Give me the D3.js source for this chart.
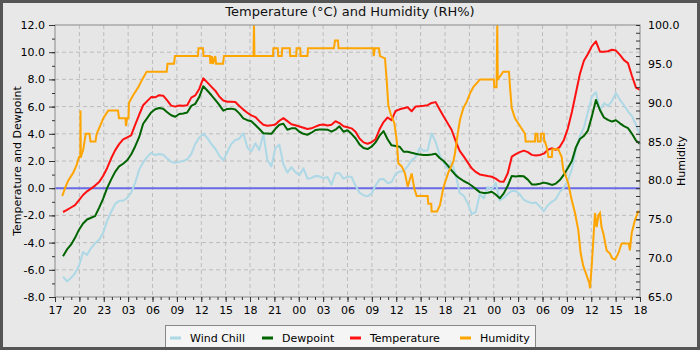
<!DOCTYPE html>
<html>
<head>
<meta charset="utf-8">
<script src="https://cdn.jsdelivr.net/npm/d3@7"></script>
<style>
  body { margin: 0; background: #e8e8e8; }
  svg { display: block; font-family: "DejaVu Sans", sans-serif; }
</style>
</head>
<body>
<svg id="chart" width="700" height="350"></svg>
<script>
// Time axis: 73 hours from 17:00 on the first day to 18:00 three days later.
const spanHours = 73;
const xTickLabels = ["17","20","23","03","06","09","12","15","18","21","00","03","06","09",
                     "12","15","18","21","00","03","06","09","12","15","18"];
const firstSampleHour = 1;   // readings start at 18:00
const sampleStep = 0.5;      // one reading every 30 minutes

// Half-hourly readings (°C)
const windChill = [
  -6.5,-6.85,-6.6,-6.26,-5.7,-4.7,-4.9,-4.4,-4.05,-3.8,
  -3.3,-2.4,-1.75,-1.15,-0.93,-0.92,-0.72,-0.32,0.38,1.35,
  1.9,2.3,2.6,2.44,2.52,2.46,2.18,1.95,1.86,1.94,
  2.0,2.12,2.5,3.25,3.72,4.0,3.7,3.25,2.9,2.4,
  2.05,2.66,3.25,3.54,3.64,4.04,3.0,2.7,3.3,2.8,
  4.0,2.07,1.6,2.95,3.2,1.75,1.15,1.55,1.18,0.95,
  1.46,0.7,0.75,0.9,0.87,0.73,0.82,0.26,1.1,1.1,
  0.7,0.84,0.84,0.18,-0.32,-0.52,-0.6,-0.39,0.2,0.65,
  0.68,0.37,0.45,1.05,1.21,1.26,1.6,2.07,2.27,2.95,
  2.75,2.78,4.04,3.4,2.45,1.9,1.45,1.9,1.0,-0.35,
  -0.55,-1.1,-1.9,-1.75,-0.45,-0.75,0.1,-0.1,0.38,-0.9,
  -0.7,-0.42,-0.2,-0.2,-0.45,-0.85,-1.0,-1.1,-1.05,-1.35,
  -1.7,-1.25,-1.0,-0.8,-0.27,0.05,0.55,1.4,2.85,3.85,
  4.45,5.6,6.75,7.05,5.75,6.25,6.05,6.4,7.0,6.5,
  6.1,5.65,5.3,4.65,3.9];
const dewpoint = [
  -5.0,-4.5,-4.15,-3.65,-3.05,-2.6,-2.3,-2.17,-2.05,-1.45,
  -0.78,0.0,0.63,1.2,1.6,1.8,2.05,2.48,3.07,3.75,
  4.74,5.15,5.57,5.8,5.9,5.85,5.58,5.36,5.25,5.46,
  5.5,5.56,6.05,6.2,6.7,7.5,7.18,6.85,6.5,6.13,
  5.7,5.83,5.85,5.78,5.5,5.14,5.0,4.92,4.65,4.35,
  4.04,4.02,4.0,4.37,4.67,4.74,4.3,4.4,4.4,4.15,
  4.0,3.93,4.08,4.28,4.32,4.32,4.3,4.16,4.3,4.55,
  4.15,4.26,4.0,3.67,3.22,2.95,2.88,3.05,3.37,3.86,
  4.2,3.6,3.15,3.1,3.05,2.68,2.68,2.6,2.53,2.47,
  2.44,2.44,2.48,2.53,2.22,2.0,1.68,1.3,0.96,0.72,
  0.53,0.38,0.18,-0.05,-0.29,-0.36,-0.33,-0.26,-0.46,-0.74,
  -0.38,0.18,0.9,0.86,0.9,0.87,0.63,0.28,0.27,0.33,
  0.41,0.35,0.24,0.34,0.6,1.0,1.48,2.0,3.0,3.62,
  3.85,4.24,5.3,6.49,5.75,5.2,5.02,4.9,5.0,4.77,
  4.56,4.42,4.0,3.5,3.25];
const temperature = [
  -1.75,-1.6,-1.42,-1.24,-0.87,-0.5,-0.23,-0.03,0.19,0.45,
  0.9,1.47,2.18,2.78,3.24,3.59,3.73,3.88,4.65,5.4,
  6.1,6.4,6.7,6.68,6.84,6.8,6.45,6.07,6.0,6.08,
  6.06,6.1,6.66,6.82,7.3,8.08,7.78,7.47,7.17,6.74,
  6.45,6.36,6.36,6.34,6.05,5.78,5.55,5.35,5.23,4.93,
  4.67,4.59,4.62,4.68,4.96,5.15,4.93,4.7,4.63,4.54,
  4.45,4.35,4.4,4.53,4.65,4.69,4.61,4.67,4.92,4.79,
  4.56,4.48,4.4,4.15,3.65,3.37,3.27,3.38,3.6,4.33,
  4.86,5.2,5.0,5.68,5.8,5.88,5.95,5.66,6.0,6.03,
  6.06,6.1,6.27,6.33,5.79,5.27,4.78,4.28,3.46,2.75,
  2.34,1.9,1.46,1.2,1.01,0.95,0.89,0.84,0.7,0.49,
  0.48,1.1,2.32,2.5,2.65,2.76,2.65,2.45,2.4,2.44,
  2.54,2.82,2.94,2.82,3.04,3.55,4.4,5.6,7.0,8.4,
  9.37,9.87,10.45,10.8,10.04,10.04,10.07,10.18,10.12,9.8,
  9.42,9.2,8.25,7.4,7.22];

// Humidity (RH%) logged on change: hour of reading and value
const humidityHours = [0.91,1.25,1.66,2.28,2.71,2.99,3.16,3.18,3.22,3.53,3.83,4.3,4.43,5.05,5.2,5.62,6.03,6.65,
  7.86,7.99,8.8,8.85,9.0,9.17,9.23,9.77,10.39,10.89,11.44,13.94,14.04,14.85,14.97,17.84,17.9,18.47,18.53,
  19.34,19.4,19.6,19.7,20.0,20.1,20.96,21.09,24.77,24.83,24.89,27.2,27.25,27.8,27.85,28.3,28.35,29.3,29.35,
  30.1,30.15,30.6,30.65,31.5,31.57,34.81,34.94,35.31,35.38,39.72,39.78,39.9,40.43,40.55,41.18,41.39,41.59,
  41.93,42.34,42.64,42.84,43.26,43.67,44.01,44.51,44.83,45.13,46.5,46.58,46.95,47.0,47.67,48.04,48.45,48.75,
  49.08,49.7,49.91,50.33,50.54,50.95,51.37,51.79,52.2,53.04,54.77,54.81,55.1,55.19,55.25,55.94,56.65,56.78,
  56.99,57.4,58.02,58.65,58.74,59.9,59.95,60.2,60.25,60.6,60.65,61.0,61.05,61.14,61.36,61.57,62.0,62.06,
  62.8,63.23,63.43,63.76,64.05,64.47,64.89,65.3,65.6,65.92,66.26,66.67,66.76,66.97,67.17,67.38,67.59,67.8,
  68.0,68.2,68.42,68.84,69.25,69.5,69.88,70.29,70.7,71.6,71.74,71.96,72.37,72.78,72.99];
const humidity = [78,79,80,81,82,83,83,89,83,84,86,86,85,85,86,87,88,89,
  89,88,88,87,88,88,90,91,92,93,94,94,95,95,96,96,97,97,96,
  96,95,96,95,96,95,95,96,96,100,96,96,97,97,96,96,97,97,96,
  96,97,97,96,96,97,97,98,98,97,97,96,97,97,96,95.7,92.9,89.7,
  88.4,87.4,85.2,82.2,81.8,80.9,79.2,80.9,79,78,78,77,77,76,76,76.8,79,80,
  81,82.4,83.5,86.5,87.8,89.3,90.1,91.2,92,93,93,92,92,100,93,94,94,92,
  89.3,88,87,86,85,85,86,86,85,85,86,86,85,85,84.3,83,83,84,
  84,83,81.3,80.5,79.6,77.5,75.8,73.6,70.6,69,68,66.8,66.1,68.9,72.3,75.8,74,75.5,
  75.8,74,73.2,71,70.6,70,69.8,70.6,71.9,71.9,71,73.2,74.9,76,76];

const series = [
  { name: "Wind Chill",  color: "#add8e6", values: windChill },
  { name: "Dewpoint",    color: "#006400", values: dewpoint },
  { name: "Temperature", color: "#ff1111", values: temperature }
];

const svg = d3.select("#chart");
const W = 700, H = 350;
const plot = { left: 55, right: 640, top: 25, bottom: 297 };

const x = d3.scaleLinear().domain([0, spanHours]).range([plot.left, plot.right]);
const yT = d3.scaleLinear().domain([-8, 12]).range([plot.bottom, plot.top]);
const yH = d3.scaleLinear().domain([65, 100]).range([plot.bottom, plot.top]);

// background
svg.append("rect").attr("width", W).attr("height", H).attr("fill", "#e8e8e8");
svg.append("rect").attr("x", plot.left).attr("y", plot.top)
  .attr("width", plot.right - plot.left).attr("height", plot.bottom - plot.top)
  .attr("fill", "#e6e6e6");

const nIntervals = xTickLabels.length - 1;
const xMajor = xTickLabels.map((_, i) => i * spanHours / nIntervals);
const xMinor = d3.range(nIntervals * 3 + 1).map(i => i * spanHours / (nIntervals * 3));
const yMajor = d3.range(-8, 12.01, 2);
const yMinor = d3.range(-8, 12.01, 1);
const hMajor = d3.range(65, 100.01, 5);
const hMinor = d3.range(65, 100.01, 1);

// dashed grid
const grid = svg.append("g").attr("stroke", "#bcbcbc").attr("stroke-width", 1)
  .attr("stroke-dasharray", "4,3");
grid.selectAll("line.v").data(xMajor.slice(1, -1)).join("line")
  .attr("x1", d => x(d)).attr("x2", d => x(d))
  .attr("y1", plot.top).attr("y2", plot.bottom);
grid.selectAll("line.h").data(yMajor.slice(1, -1)).join("line")
  .attr("x1", plot.left).attr("x2", plot.right)
  .attr("y1", d => yT(d)).attr("y2", d => yT(d));

// freezing line
svg.append("line")
  .attr("x1", plot.left).attr("x2", plot.right)
  .attr("y1", yT(0)).attr("y2", yT(0))
  .attr("stroke", "#6a6ae6").attr("stroke-width", 2);

// series lines
const hourOf = i => firstSampleHour + i * sampleStep;
series.forEach(s => {
  const line = d3.line().x((d, i) => x(hourOf(i))).y(d => yT(d));
  svg.append("path").datum(s.values)
    .attr("d", line).attr("fill", "none")
    .attr("stroke", s.color).attr("stroke-width", 2)
    .attr("stroke-linejoin", "round");
});
const humLine = d3.line().x((d, i) => x(humidityHours[i])).y(d => yH(d));
svg.append("path").datum(humidity)
  .attr("d", humLine).attr("fill", "none")
  .attr("stroke", "#ffa500").attr("stroke-width", 2);

// plot frame
svg.append("rect").attr("x", plot.left).attr("y", plot.top)
  .attr("width", plot.right - plot.left).attr("height", plot.bottom - plot.top)
  .attr("fill", "none").attr("stroke", "#999").attr("stroke-width", 1.2);

function styleAxis(g) {
  g.select(".domain").remove();
  g.selectAll("line").attr("stroke", "#333");
  g.selectAll("text").attr("fill", "#000").attr("font-size", 11)
    .attr("font-family", "DejaVu Sans, sans-serif");
}

// bottom axis
svg.append("g").attr("transform", `translate(0,${plot.bottom})`)
  .call(d3.axisBottom(x).tickValues(xMinor).tickSize(3).tickFormat(""))
  .call(styleAxis);
svg.append("g").attr("transform", `translate(0,${plot.bottom})`)
  .call(d3.axisBottom(x).tickValues(xMajor).tickSize(5).tickPadding(4)
    .tickFormat((d, i) => xTickLabels[i]))
  .call(styleAxis);

// left axis
svg.append("g").attr("transform", `translate(${plot.left},0)`)
  .call(d3.axisLeft(yT).tickValues(yMinor).tickSize(3).tickFormat(""))
  .call(styleAxis);
svg.append("g").attr("transform", `translate(${plot.left},0)`)
  .call(d3.axisLeft(yT).tickValues(yMajor).tickSize(6).tickPadding(4)
    .tickFormat(d => d.toFixed(1)))
  .call(styleAxis);

// right axis (ticks point inward)
svg.append("g").attr("transform", `translate(${plot.right},0)`)
  .call(d3.axisRight(yH).tickValues(hMinor).tickSize(-4).tickFormat(""))
  .call(styleAxis);
svg.append("g").attr("transform", `translate(${plot.right},0)`)
  .call(d3.axisRight(yH).tickValues(hMajor).tickSize(-4).tickPadding(8)
    .tickFormat(d => d.toFixed(1)))
  .call(styleAxis);

// titles
svg.append("text").attr("x", 350).attr("y", 16).attr("text-anchor", "middle")
  .attr("font-size", 13).attr("fill", "#111")
  .text("Temperature (°C) and Humidity (RH%)");
svg.append("text").attr("transform", `translate(20.5,${(plot.top + plot.bottom) / 2}) rotate(-90)`)
  .attr("text-anchor", "middle").attr("font-size", 11).attr("fill", "#000")
  .text("Temperature and Dewpoint");
svg.append("text").attr("transform", `translate(685,${(plot.top + plot.bottom) / 2}) rotate(-90)`)
  .attr("text-anchor", "middle").attr("font-size", 11).attr("fill", "#000")
  .text("Humidity");

// legend
const legendItems = [
  { name: "Wind Chill", color: "#add8e6", x: 170 },
  { name: "Dewpoint", color: "#006400", x: 262 },
  { name: "Temperature", color: "#ff1111", x: 350 },
  { name: "Humidity", color: "#ffa500", x: 460 }
];
svg.append("rect").attr("x", 165.5).attr("y", 325.5).attr("width", 370).attr("height", 30)
  .attr("fill", "#f5f5f5").attr("stroke", "#888");
const lg = svg.append("g").selectAll("g").data(legendItems).join("g")
  .attr("transform", d => `translate(${d.x},338)`);
lg.append("line").attr("x1", 0).attr("x2", 11).attr("stroke", d => d.color).attr("stroke-width", 3);
lg.append("text").attr("x", 20).attr("y", 4).attr("font-size", 11).attr("fill", "#000")
  .text(d => d.name);

// outer border
svg.append("rect").attr("x", 1.5).attr("y", 1.5).attr("width", W - 3).attr("height", H - 3)
  .attr("fill", "none").attr("stroke", "#555").attr("stroke-width", 3);
</script>
</body>
</html>
